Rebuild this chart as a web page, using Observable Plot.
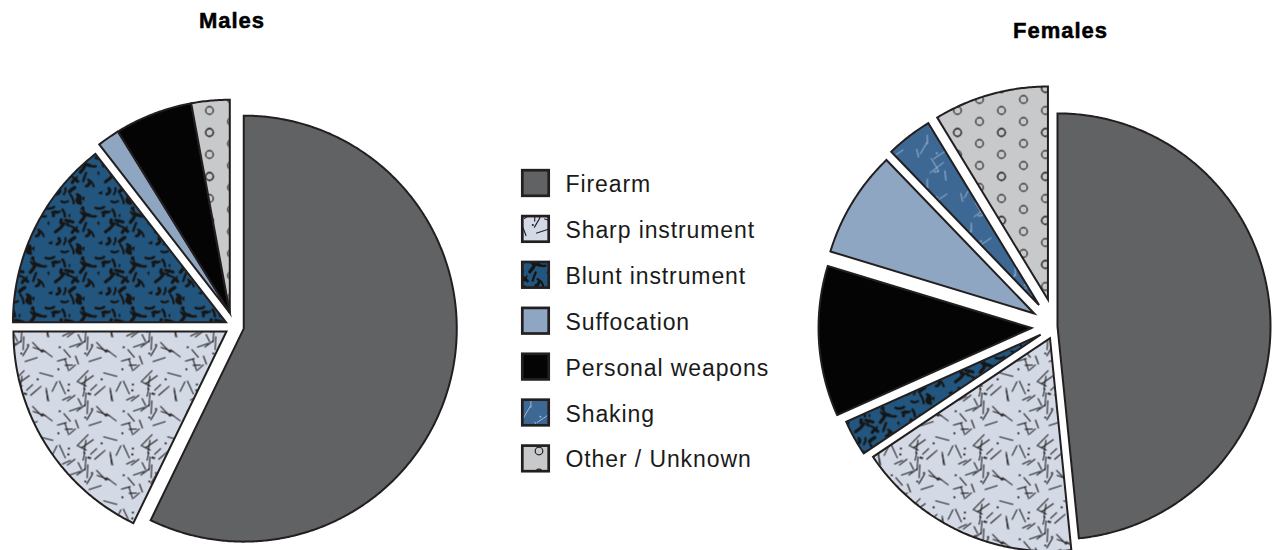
<!DOCTYPE html>
<html>
<head>
<meta charset="utf-8">
<script src="https://cdn.jsdelivr.net/npm/d3@7"></script>
<script src="https://cdn.jsdelivr.net/npm/@observablehq/plot@0.6"></script>
<style>
  html, body { margin: 0; padding: 0; background: #fff; overflow: hidden; }
  #chart svg { display: block; }
</style>
</head>
<body>
<svg id="defs" width="0" height="0" style="position:absolute"><defs id="patdefs"></defs></svg>
<div id="chart"></div>
<script>
// ---------------- DATA ----------------
const categories = ["Firearm", "Sharp instrument", "Blunt instrument", "Suffocation", "Personal weapons", "Shaking", "Other / Unknown"];
const pieTitles = ["Males", "Females"];

// Males: slices clockwise from 12 o'clock (percent)
const maleOrder  = ["Firearm", "Sharp instrument", "Blunt instrument", "Suffocation", "Personal weapons", "Shaking", "Other / Unknown"];
const maleValues = [57.2, 17.8, 14.5, 1.7, 5.9, 0, 2.9];

// Females: slices clockwise from 12 o'clock (percent)
const femaleOrder  = ["Firearm", "Sharp instrument", "Blunt instrument", "Personal weapons", "Suffocation", "Shaking", "Other / Unknown"];
const femaleValues = [48.4, 17.2, 2.7, 11.4, 8.1, 3.5, 8.7];

// ---------------- STYLE / LAYOUT ----------------
const W = 1273, H = 550, R = 213;
const INK = "#231f20";
const maleLayout   = {cx: 234,  cy: 326, groups: [0, 1, 2, 3, 3, 3, 3], explode: [9.5, 9.5, 9.5, 14.5]};
const femaleLayout = {cx: 1055, cy: 326, groups: [0, 1, 2, 3, 4, 5, 6], explode: [2, 13, 17, 24, 25, 27, 28]};

// ---------------- PATTERNS ----------------
function lcg(seed) { let s = seed >>> 0; return () => (s = (s * 1664525 + 1013904223) % 4294967296) / 4294967296; }
const NS = "http://www.w3.org/2000/svg";
const defs = document.getElementById("patdefs");
function makePattern(id, size, bg, draw) {
  const p = document.createElementNS(NS, "pattern");
  p.setAttribute("id", id);
  p.setAttribute("patternUnits", "userSpaceOnUse");
  p.setAttribute("width", size);
  p.setAttribute("height", size);
  let html = `<rect width="${size}" height="${size}" fill="${bg}"/>`;
  const items = draw();
  for (const dx of [-size, 0, size]) for (const dy of [-size, 0, size]) {
    html += `<g transform="translate(${dx},${dy})">${items}</g>`;
  }
  p.innerHTML = html;
  defs.appendChild(p);
}
// Sharp instrument: light blue-grey with scattered dashes and dots
makePattern("p-sharp", 64, "#d3dae6", () => {
  const rnd = lcg(11); let s = "";
  for (let i = 0; i < 30; i++) {
    const x = rnd() * 64, y = rnd() * 64, a = rnd() * Math.PI, L = 8 + rnd() * 9;
    const dx = Math.cos(a) * L / 2, dy = Math.sin(a) * L / 2;
    s += `<line x1="${(x - dx).toFixed(2)}" y1="${(y - dy).toFixed(2)}" x2="${(x + dx).toFixed(2)}" y2="${(y + dy).toFixed(2)}" stroke="${INK}" stroke-width="1.1"/>`;
  }
  for (let i = 0; i < 10; i++) s += `<circle cx="${(rnd() * 64).toFixed(2)}" cy="${(rnd() * 64).toFixed(2)}" r="1.1" fill="${INK}"/>`;
  return s;
});
// Blunt instrument: dark blue with black irregular blobs
makePattern("p-blunt", 50, "#22567f", () => {
  const rnd = lcg(21); let s = "";
  for (let i = 0; i < 24; i++) {
    const x = rnd() * 50, y = rnd() * 50, a = rnd() * 2 * Math.PI, L = 4 + rnd() * 7, bend = (rnd() - 0.5) * 9;
    const ex = x + Math.cos(a) * L, ey = y + Math.sin(a) * L;
    const mx = (x + ex) / 2 - Math.sin(a) * bend, my = (y + ey) / 2 + Math.cos(a) * bend;
    s += `<path d="M${x.toFixed(2)},${y.toFixed(2)}Q${mx.toFixed(2)},${my.toFixed(2)} ${ex.toFixed(2)},${ey.toFixed(2)}" fill="none" stroke="#151515" stroke-width="${(2 + rnd() * 1.8).toFixed(2)}" stroke-linecap="round"/>`;
  }
  for (let i = 0; i < 8; i++) {
    const x = rnd() * 50, y = rnd() * 50;
    s += `<path d="M${x.toFixed(2)},${y.toFixed(2)}l${(2 + rnd() * 3).toFixed(2)},${(-1 - rnd() * 2).toFixed(2)}l${(-1 + rnd()).toFixed(2)},${(3 + rnd() * 3).toFixed(2)}z" fill="#151515"/>`;
  }
  return s;
});
// Shaking: medium blue with thin light strokes
makePattern("p-shaking", 44, "#3e6894", () => {
  const rnd = lcg(5); let s = "";
  for (let i = 0; i < 7; i++) {
    const x = rnd() * 44, y = rnd() * 44, a = -Math.PI / 3 + rnd() * Math.PI / 1.5 + (rnd() < 0.5 ? 0 : Math.PI / 2), L = 8 + rnd() * 10;
    const dx = Math.cos(a) * L / 2, dy = Math.sin(a) * L / 2;
    s += `<line x1="${(x - dx).toFixed(2)}" y1="${(y - dy).toFixed(2)}" x2="${(x + dx).toFixed(2)}" y2="${(y + dy).toFixed(2)}" stroke="#a9bfd6" stroke-width="0.9"/>`;
  }
  for (let i = 0; i < 3; i++) s += `<circle cx="${(rnd() * 44).toFixed(2)}" cy="${(rnd() * 44).toFixed(2)}" r="0.9" fill="#a9bfd6"/>`;
  return s;
});
// Other / Unknown: light grey with small open circles
makePattern("p-other", 44, "#c8c9cb", () => {
  let s = "";
  const pts = [[11, 11], [11, 33], [33, 0], [33, 22], [33, 44]];
  for (const [x, y] of pts) s += `<circle cx="${x}" cy="${y}" r="3.8" fill="none" stroke="${INK}" stroke-width="1.2"/>`;
  return s;
});

const fills = {
  "Firearm": "#616264",
  "Sharp instrument": "url(#p-sharp)",
  "Blunt instrument": "url(#p-blunt)",
  "Suffocation": "#8fa6c2",
  "Personal weapons": "#040404",
  "Shaking": "url(#p-shaking)",
  "Other / Unknown": "url(#p-other)"
};

// ---------------- GEOMETRY ----------------
function slicePoints(pie, order, values, layout) {
  const total = d3.sum(values);
  let acc = 0;
  const slices = order.map((cat, i) => {
    const a0 = acc / total * 2 * Math.PI; acc += values[i];
    const a1 = acc / total * 2 * Math.PI;
    return {cat, a0, a1, v: values[i], g: layout.groups[i]};
  });
  const bis = d3.rollup(slices, v => (d3.min(v, s => s.a0) + d3.max(v, s => s.a1)) / 2, s => s.g);
  const pts = [];
  for (const s of slices) {
    if (s.v <= 0) continue;
    const b = bis.get(s.g), d = layout.explode[s.g];
    const px = layout.cx + d * Math.sin(b), py = layout.cy - d * Math.cos(b);
    const id = pie + "|" + s.cat;
    pts.push({id, cat: s.cat, x: px, y: py});
    const n = Math.max(2, Math.ceil((s.a1 - s.a0) / (Math.PI / 360)));
    for (let k = 0; k <= n; k++) {
      const a = s.a0 + (s.a1 - s.a0) * k / n;
      pts.push({id, cat: s.cat, x: px + R * Math.sin(a), y: py - R * Math.cos(a)});
    }
    pts.push({id, cat: s.cat, x: px, y: py});
    pts.push({id, cat: s.cat, x: px + R * Math.sin(s.a0), y: py - R * Math.cos(s.a0)});
  }
  return pts;
}
const points = [
  ...slicePoints("Males", maleOrder, maleValues, maleLayout),
  ...slicePoints("Females", femaleOrder, femaleValues, femaleLayout)
];

// ---------------- MARKS ----------------
const sliceMarks = categories.map(cat =>
  Plot.line(points.filter(p => p.cat === cat), {
    x: "x", y: "y", z: "id",
    fill: fills[cat], stroke: INK, strokeWidth: 2,
    strokeLinejoin: "miter", strokeMiterlimit: 8, strokeLinecap: "butt", curve: "linear"
  })
);

const legendTop = 183, legendStep = 45.9;
const legendRows = categories.map((c, i) => ({c, i}));
const legendMarks = legendRows.map(({c, i}) =>
  Plot.rect([c], {
    x1: () => 522.3, x2: () => 548.7,
    y1: () => legendTop + i * legendStep - 12.8, y2: () => legendTop + i * legendStep + 12.8,
    fill: fills[c], stroke: INK, strokeWidth: 2.7
  })
);

const titleData = [
  {t: pieTitles[0], x: 231.5, y: 20.7},
  {t: pieTitles[1], x: 1060, y: 30.7}
];

const chart = Plot.plot({
  width: W, height: H,
  margin: 0,
  x: {domain: [0, W], range: [0, W], axis: null},
  y: {domain: [0, H], range: [0, H], axis: null},
  style: {fontFamily: "'Liberation Sans', Arial, sans-serif", background: "#fff", overflow: "hidden"},
  marks: [
    ...sliceMarks,
    ...legendMarks,
    Plot.text(legendRows, {
      x: () => 565, y: d => legendTop + 1.2 + d.i * legendStep, text: d => d.c,
      textAnchor: "start", fontSize: 23, fill: "#1a1a1a", className: "legend-label"
    }),
    Plot.text(titleData, {
      x: "x", y: "y", text: "t", fontSize: 22, fontWeight: "bold", fill: "#000",
      stroke: "#000", strokeWidth: 0.5, textAnchor: "middle", className: "pie-title"
    })
  ]
});
d3.select(chart).selectAll(".pie-title text").style("letter-spacing", "1px");
d3.select(chart).selectAll(".legend-label text").style("letter-spacing", "0.9px");
document.getElementById("chart").appendChild(chart);
</script>
</body>
</html>
